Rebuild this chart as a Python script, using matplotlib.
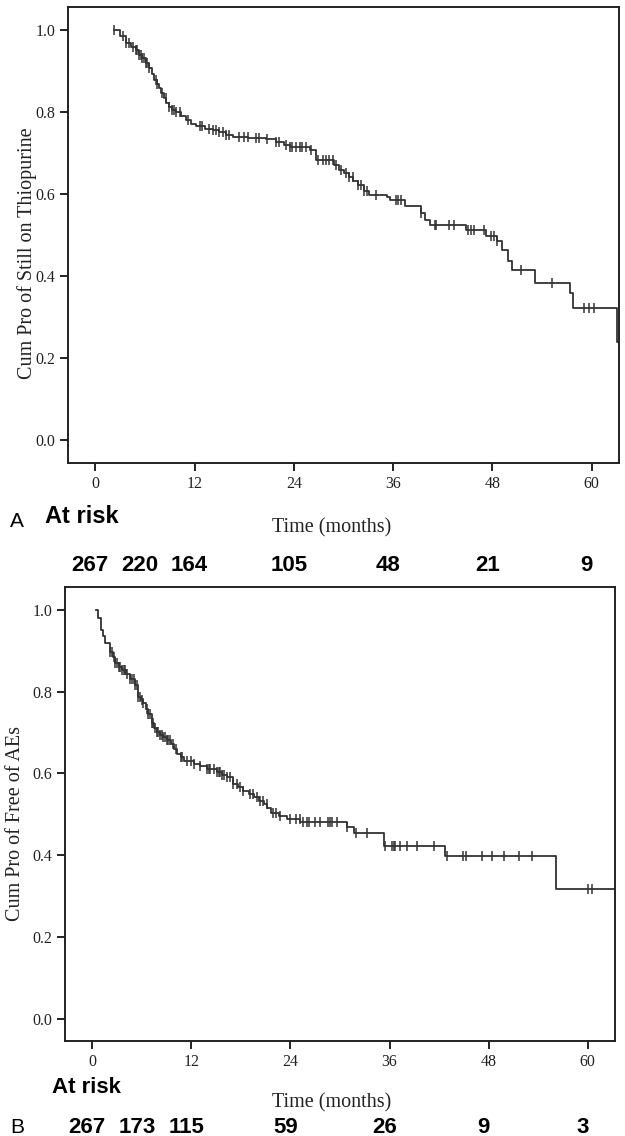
import numpy as np
import matplotlib
matplotlib.use("Agg")
from matplotlib import pyplot as plt
from matplotlib import transforms

# Panel A - still on thiopurine (step knots)
a_times = [2.3, 3.0, 3.7, 4.3, 4.9, 5.3, 5.7, 6.1, 6.5, 6.8, 7.1, 7.4, 7.7, 8.0, 8.3, 8.6, 8.9, 9.3,
           9.8, 10.4, 11.0, 11.6, 12.2, 13.2, 14.2, 15.0, 15.8, 16.6, 18.5, 20.6, 21.9, 22.8, 23.5, 25.9,
           26.7, 28.9, 29.5, 30.1, 30.7, 31.2, 31.7, 32.5, 33.1, 35.3, 35.6, 37.4, 39.4, 39.8, 40.4, 44.8,
           47.2, 48.6, 49.2, 49.9, 50.4, 53.2, 57.4, 57.7, 63.0, 63.6]
a_surv = [1.0, 0.985, 0.968, 0.958, 0.951, 0.940, 0.931, 0.920, 0.907, 0.893, 0.878, 0.868, 0.858, 0.846,
          0.834, 0.823, 0.813, 0.806, 0.801, 0.790, 0.781, 0.772, 0.765, 0.760, 0.757, 0.751, 0.745, 0.739,
          0.737, 0.734, 0.728, 0.720, 0.716, 0.708, 0.684, 0.672, 0.659, 0.652, 0.643, 0.632, 0.623, 0.607,
          0.599, 0.594, 0.586, 0.571, 0.554, 0.538, 0.526, 0.513, 0.497, 0.485, 0.465, 0.437, 0.416, 0.384,
          0.359, 0.323, 0.241, 0.241]
a_censor = [2.3, 3.3, 3.7, 4.1, 4.5, 4.9, 5.1, 5.3, 5.5, 5.7, 5.9, 6.1, 6.3, 6.5, 7.3, 7.5, 8.1, 8.5, 8.9,
            9.3, 9.5, 9.8, 10.2, 11.2, 12.6, 12.9, 13.8, 14.2, 14.6, 15.0, 15.4, 15.8, 16.2, 17.4, 18.0,
            18.4, 19.4, 19.8, 20.7, 21.9, 22.2, 23.1, 23.5, 23.8, 24.3, 24.7, 25.0, 25.5, 26.1, 26.9, 27.5,
            27.9, 28.3, 28.7, 29.1, 29.7, 30.3, 30.7, 31.1, 31.7, 32.1, 32.5, 32.9, 33.9, 36.4, 36.6, 37.0,
            39.4, 41.0, 41.2, 42.8, 43.4, 45.0, 45.4, 45.8, 47.0, 47.8, 48.2, 48.6, 51.4, 55.2, 59.1, 59.7,
            60.3]

# Panel B - free of adverse events
b_times = [0.5, 0.7, 1.0, 1.3, 1.6, 2.2, 2.5, 2.8, 3.2, 3.6, 4.1, 4.6, 5.2, 5.6, 5.9, 6.2, 6.5, 6.8, 7.2,
           7.5, 7.8, 8.2, 8.6, 9.0, 9.5, 9.9, 10.3, 10.7, 11.1, 12.3, 13.1, 13.9, 15.1, 15.7, 16.3, 17.1,
           17.7, 18.3, 19.0, 19.6, 20.2, 20.8, 21.2, 21.6, 22.6, 23.6, 25.2, 30.9, 31.7, 35.3, 42.7, 56.1,
           64.0]
b_surv = [1.0, 0.980, 0.951, 0.935, 0.918, 0.898, 0.884, 0.869, 0.861, 0.853, 0.842, 0.832, 0.816, 0.787,
          0.779, 0.771, 0.758, 0.746, 0.722, 0.711, 0.701, 0.695, 0.689, 0.681, 0.672, 0.660, 0.648, 0.640,
          0.631, 0.623, 0.617, 0.611, 0.603, 0.597, 0.590, 0.574, 0.566, 0.558, 0.550, 0.541, 0.533, 0.525,
          0.515, 0.504, 0.496, 0.488, 0.480, 0.468, 0.453, 0.423, 0.398, 0.316, 0.316]
b_censor = [2.2, 2.4, 2.6, 2.8, 3.0, 3.2, 3.4, 3.6, 3.8, 4.0, 4.2, 4.6, 4.8, 5.0, 5.2, 5.4, 5.6, 5.8, 6.0,
            6.2, 6.6, 6.8, 7.0, 7.2, 7.4, 7.6, 7.8, 8.0, 8.2, 8.4, 8.6, 8.8, 9.0, 9.2, 9.4, 9.8, 10.2, 10.7,
            10.9, 11.5, 11.9, 12.3, 13.1, 13.9, 14.1, 14.3, 14.7, 15.1, 15.3, 15.5, 15.7, 15.9, 16.3, 16.7,
            17.1, 17.5, 17.9, 18.3, 19.1, 19.5, 19.9, 20.3, 20.7, 21.1, 21.9, 22.3, 22.7, 23.9, 24.7, 25.1,
            25.5, 26.0, 26.3, 27.0, 27.6, 28.6, 28.8, 29.0, 29.6, 30.9, 31.9, 33.3, 35.5, 36.3, 36.5, 36.7,
            37.3, 38.1, 39.3, 41.4, 43.0, 44.9, 45.2, 47.2, 48.4, 49.8, 51.7, 53.3, 60.0, 60.5]

risk_months = [0, 6, 12, 24, 36, 48, 60]
risk_a = [267, 220, 164, 105, 48, 21, 9]
risk_b = [267, 173, 115, 59, 26, 9, 3]

ylabels = ["Cum Pro of Still on Thiopurine", "Cum Pro of Free of AEs"]

serif = "Liberation Serif"
sans = "Liberation Sans"
line_col = "#333333"

fig = plt.figure(figsize=(6.25, 11.36), dpi=100)
ax_a = fig.add_axes([0.1088, 0.5924, 0.8816, 0.4014])
ax_b = fig.add_axes([0.104, 0.0836, 0.880, 0.3997])


def km_panel(ax, times, surv, censor, ylabel, ylab_x, ylab_y):
    times = np.array(times)
    surv = np.array(surv)
    ax.step(times, surv, where="post", color=line_col, lw=1.3)
    # censored cases sit on the current step
    idx = np.searchsorted(times, censor, side="right") - 1
    ax.plot(censor, surv[idx], ls="none", marker="|", ms=6.5, mew=1.1, color=line_col)
    ax.set_xlim(-3.3, 63.3)
    ax.set_ylim(-0.055, 1.056)
    ax.set_xticks([0, 12, 24, 36, 48, 60])
    ax.set_yticks([0.0, 0.2, 0.4, 0.6, 0.8, 1.0])
    ax.set_yticklabels(["0.0", "0.2", "0.4", "0.6", "0.8", "1.0"])
    for lab in ax.get_xticklabels() + ax.get_yticklabels():
        lab.set_fontfamily(serif)
        lab.set_fontsize(11.5)
        lab.set_color("#222222")
    ax.tick_params(direction="out", length=6, width=1.4, color="#222222", pad=3)
    for sp in ax.spines.values():
        sp.set_linewidth(1.4)
        sp.set_color("#222222")
    ax.set_ylabel(ylabel, fontfamily=serif, fontsize=14.5, color="#222222")
    ax.yaxis.set_label_coords(ylab_x, ylab_y)
    ax.set_xlabel("Time (months)", fontfamily=serif, fontsize=14.5, color="#222222")


km_panel(ax_a, a_times, a_surv, a_censor, ylabels[0], -0.056, 0.46)
km_panel(ax_b, b_times, b_surv, b_censor, ylabels[1], -0.073, 0.48)
ax_a.xaxis.set_label_coords(0.479, -0.12)
ax_b.xaxis.set_label_coords(0.485, -0.115)

# panel letters and "At risk" labels
fig.text(0.027, 0.5405, "A", fontfamily=sans, fontsize=15, ha="center", va="center")
fig.text(0.027, 0.0079, "B", fontfamily=sans, fontsize=15, ha="center", va="center")
fig.text(0.072, 0.545, "At risk", fontfamily=sans, fontsize=17, fontweight="bold", ha="left", va="center")
fig.text(0.0832, 0.0431, "At risk", fontfamily=sans, fontsize=16, fontweight="bold", ha="left", va="center")

# numbers at risk under each panel
for ax, counts, ypos in [(ax_a, risk_a, 0.5026), (ax_b, risk_b, 0.0079)]:
    trans = transforms.blended_transform_factory(ax.transData, fig.transFigure)
    trans = transforms.offset_copy(trans, fig=fig, x=-5, y=0, units="dots")
    for m, n in zip(risk_months, counts):
        fig.text(m, ypos, str(n), transform=trans, fontfamily=sans, fontsize=16,
                 fontweight="bold", ha="center", va="center")

fig.savefig("out.png", dpi=100, facecolor="white")
